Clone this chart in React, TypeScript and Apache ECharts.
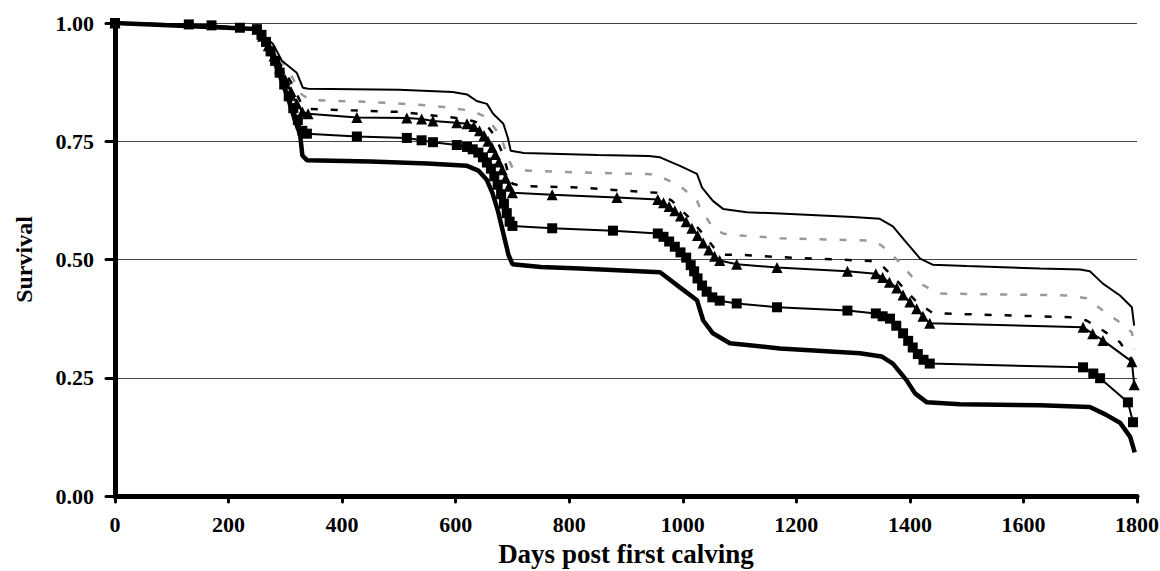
import React, { useEffect, useRef } from "react";
import * as echarts from "echarts";

// Kaplan-Meier style survival curves: [days post first calving, survival]
const xTicks = [0, 200, 400, 600, 800, 1000, 1200, 1400, 1600, 1800];
const yTicks = [0, 0.25, 0.5, 0.75, 1.0];

const topCurve: [number, number][] = [
  [0, 1], [130, 0.997], [220, 0.99], [250, 0.987], [265, 0.97], [278, 0.956], [294, 0.92], [320, 0.895],
  [331, 0.863], [340, 0.861], [500, 0.859], [595, 0.854], [620, 0.849], [637, 0.835], [655, 0.829],
  [666, 0.808], [684, 0.787], [692, 0.757], [697, 0.73], [720, 0.725], [850, 0.721], [940, 0.719],
  [960, 0.716], [995, 0.698], [1025, 0.681], [1034, 0.652], [1053, 0.624], [1071, 0.607], [1113, 0.6],
  [1171, 0.597], [1300, 0.59], [1347, 0.586], [1370, 0.57], [1391, 0.54], [1418, 0.502], [1440, 0.489],
  [1500, 0.486], [1629, 0.481], [1700, 0.479], [1717, 0.475], [1740, 0.449], [1770, 0.424], [1791, 0.399],
  [1795, 0.36],
];

const grayDashCurve: [number, number][] = [
  [0, 1], [250, 0.987], [270, 0.96], [290, 0.925], [310, 0.89], [328, 0.85], [343, 0.837], [450, 0.833],
  [550, 0.826], [595, 0.82], [630, 0.814], [655, 0.8], [672, 0.772], [684, 0.745], [692, 0.715], [700, 0.694],
  [720, 0.688], [819, 0.684], [951, 0.68], [995, 0.656], [1025, 0.624], [1030, 0.61], [1053, 0.567],
  [1071, 0.555], [1100, 0.551], [1171, 0.545], [1330, 0.54], [1350, 0.53], [1382, 0.494], [1410, 0.455],
  [1444, 0.432], [1453, 0.428], [1682, 0.424], [1711, 0.418], [1740, 0.392], [1770, 0.367], [1791, 0.346],
  [1795, 0.31],
];

const blackDashCurve: [number, number][] = [
  [0, 1], [250, 0.987], [270, 0.955], [290, 0.915], [310, 0.875], [328, 0.83], [343, 0.818], [502, 0.812],
  [595, 0.8], [630, 0.793], [655, 0.783], [670, 0.76], [684, 0.72], [692, 0.685], [700, 0.66], [720, 0.655],
  [819, 0.652], [954, 0.641], [980, 0.625], [1010, 0.59], [1035, 0.555], [1055, 0.525], [1071, 0.51],
  [1100, 0.51], [1171, 0.505], [1330, 0.497], [1350, 0.488], [1377, 0.455], [1412, 0.41], [1441, 0.386],
  [1453, 0.386], [1682, 0.378], [1711, 0.371], [1740, 0.35], [1770, 0.325], [1791, 0.287],
];

const triangleCurve: [number, number][] = [
  [0, 1], [250, 0.987], [260, 0.972], [270, 0.952], [280, 0.93], [290, 0.905], [300, 0.88], [310, 0.855],
  [320, 0.83], [330, 0.812], [340, 0.808], [426, 0.8], [514, 0.799], [540, 0.797], [560, 0.793], [602, 0.789],
  [620, 0.787], [632, 0.781], [642, 0.772], [650, 0.762], [657, 0.75], [664, 0.737], [670, 0.722],
  [676, 0.706], [682, 0.69], [688, 0.672], [694, 0.655], [700, 0.641], [770, 0.637], [884, 0.631],
  [956, 0.627], [966, 0.62], [976, 0.612], [986, 0.603], [996, 0.592], [1006, 0.58], [1016, 0.566],
  [1026, 0.551], [1036, 0.535], [1046, 0.52], [1056, 0.507], [1065, 0.498], [1095, 0.49], [1166, 0.483],
  [1290, 0.475], [1340, 0.47], [1352, 0.462], [1364, 0.452], [1377, 0.44], [1388, 0.425], [1400, 0.41],
  [1412, 0.396], [1423, 0.38], [1435, 0.365], [1705, 0.357], [1722, 0.343], [1740, 0.329], [1791, 0.284],
  [1795, 0.235],
];

const squareCurve: [number, number][] = [
  [0, 1], [130, 0.997], [170, 0.995], [220, 0.99], [250, 0.987], [258, 0.975], [266, 0.96], [274, 0.94],
  [282, 0.92], [290, 0.895], [298, 0.87], [306, 0.845], [314, 0.82], [322, 0.795], [330, 0.772],
  [338, 0.766], [426, 0.76], [514, 0.757], [540, 0.752], [560, 0.748], [602, 0.742], [620, 0.738],
  [630, 0.733], [640, 0.726], [648, 0.716], [655, 0.705], [662, 0.692], [668, 0.676], [674, 0.658],
  [680, 0.638], [685, 0.618], [690, 0.598], [695, 0.58], [700, 0.571], [770, 0.566], [877, 0.561],
  [956, 0.555], [966, 0.548], [976, 0.538], [986, 0.527], [996, 0.515], [1006, 0.504], [1014, 0.488],
  [1020, 0.475], [1026, 0.46], [1034, 0.445], [1042, 0.432], [1052, 0.42], [1065, 0.413], [1095, 0.407],
  [1166, 0.399], [1290, 0.392], [1340, 0.386], [1352, 0.38], [1365, 0.375], [1376, 0.36], [1388, 0.344],
  [1397, 0.328], [1405, 0.314], [1414, 0.3], [1424, 0.288], [1435, 0.28], [1705, 0.272], [1723, 0.259],
  [1735, 0.249], [1784, 0.198], [1793, 0.156],
];

const bottomCurve: [number, number][] = [
  [0, 1], [250, 0.987], [260, 0.97], [275, 0.935], [290, 0.89], [305, 0.84], [318, 0.79], [326, 0.765],
  [330, 0.72], [338, 0.71], [450, 0.707], [550, 0.703], [620, 0.698], [640, 0.688], [655, 0.668],
  [665, 0.64], [675, 0.6], [685, 0.55], [693, 0.51], [700, 0.49], [750, 0.484], [819, 0.481], [960, 0.473],
  [995, 0.441], [1025, 0.414], [1036, 0.371], [1053, 0.344], [1083, 0.323], [1171, 0.312], [1312, 0.302],
  [1350, 0.295], [1370, 0.28], [1394, 0.245], [1409, 0.217], [1430, 0.198], [1488, 0.194], [1629, 0.192],
  [1717, 0.188], [1745, 0.172], [1770, 0.155], [1788, 0.125], [1796, 0.092],
];

const FONT = "'Liberation Serif', 'Times New Roman', serif";

export default function App() {
  const ref = useRef<HTMLDivElement>(null);

  useEffect(() => {
    document.body.style.margin = "0";
    if (!ref.current) return;
    const chart = echarts.init(ref.current, undefined, { renderer: "svg" });

    const lineSeries = (
      name: string,
      data: [number, number][],
      style: any,
      extra: any = {}
    ) => ({
      name,
      type: "line",
      data,
      showSymbol: false,
      symbol: "none",
      lineStyle: style,
      emphasis: { disabled: true },
      ...extra,
    });

    chart.setOption({
      animation: false,
      backgroundColor: "#ffffff",
      grid: {
        left: 115,
        right: 23,
        top: 23,
        bottom: 75,
        containLabel: false,
        outerBoundsMode: "none",
      },
      xAxis: {
        type: "value",
        min: 0,
        max: 1800,
        interval: 200,
        name: "Days post first calving",
        nameLocation: "middle",
        nameGap: 44,
        nameTextStyle: { fontFamily: FONT, fontWeight: "bold", fontSize: 27, color: "#000" },
        axisLine: { show: true, onZero: false, lineStyle: { color: "#000", width: 5 } },
        axisTick: { show: true, length: 6, lineStyle: { color: "#000", width: 3, cap: "round" } },
        axisLabel: {
          margin: 17,
          fontFamily: FONT,
          fontWeight: "bold",
          fontSize: 22,
          color: "#000",
          customValues: xTicks,
          formatter: (v: number) => String(v),
        },
        splitLine: { show: false },
      },
      yAxis: {
        type: "value",
        min: 0,
        max: 1,
        interval: 0.25,
        name: "Survival",
        nameLocation: "middle",
        nameGap: 79,
        nameTextStyle: { fontFamily: FONT, fontWeight: "bold", fontSize: 24, color: "#000" },
        axisLine: { show: true, lineStyle: { color: "#000", width: 5 } },
        axisTick: { show: true, length: 9, lineStyle: { color: "#000", width: 3, cap: "round" } },
        axisLabel: {
          margin: 21,
          fontFamily: FONT,
          fontWeight: "bold",
          fontSize: 22,
          color: "#000",
          formatter: (v: number) => (yTicks.includes(v) ? v.toFixed(2) : ""),
        },
        splitLine: { show: true, lineStyle: { color: "#444", width: 1 } },
      },
      series: [
        lineSeries("Gray dashed", grayDashCurve, { color: "#999999", width: 2.5, type: [7, 13] }),
        lineSeries("Black dashed", blackDashCurve, { color: "#000", width: 2.5, type: [7, 13] }),
        lineSeries("Upper", topCurve, { color: "#000", width: 2 }),
        lineSeries("Lower", bottomCurve, { color: "#000", width: 4.5 }),
        lineSeries("Triangles", triangleCurve, { color: "#000", width: 2 }, {
          showSymbol: true,
          symbol: "triangle",
          symbolSize: 11,
          itemStyle: { color: "#000" },
        }),
        lineSeries("Squares", squareCurve, { color: "#000", width: 2 }, {
          showSymbol: true,
          symbol: "rect",
          symbolSize: 10,
          itemStyle: { color: "#000" },
        }),
      ],
    });

    return () => chart.dispose();
  }, []);

  return <div ref={ref} style={{ width: 1160, height: 571 }} />;
}
